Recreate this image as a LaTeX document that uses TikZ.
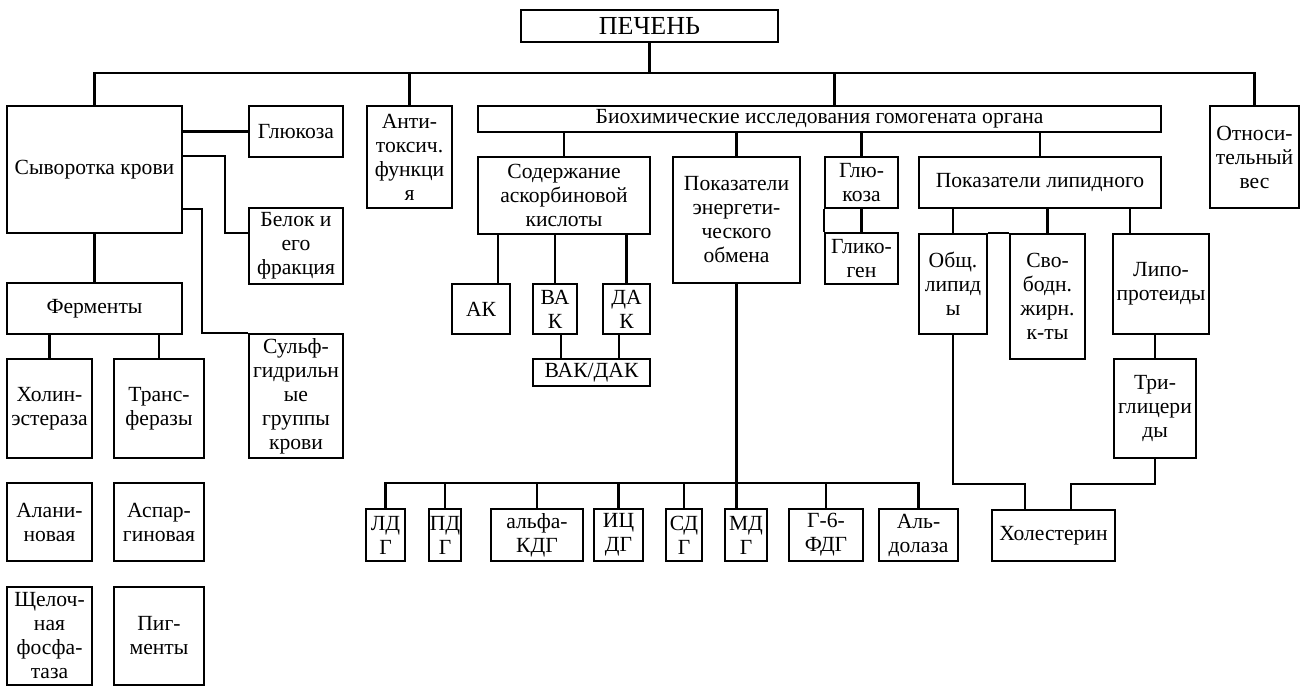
\documentclass[tikz,border=0pt]{standalone}
\usepackage{fontspec}
\setmainfont{Liberation Serif}
\usepackage{tikz}
\usetikzlibrary{calc}

\begin{document}
\begin{tikzpicture}[x=0.5pt, y=-0.5pt, line width=1.2pt, inner sep=0pt,
	box/.style={draw=black, align=center, font=\fontsize{10.8}{12}\selectfont}]
		\useasboundingbox (0,0) rectangle (1304,686);

		\node[box, minimum width=128.5pt, minimum height=16pt, font=\fontsize{13}{15}\selectfont](pechen) at (649.5,26) {ПЕЧЕНЬ};

		\node[box, minimum width=87.5pt, minimum height=63.5pt](syv) at (94.5,169.5) {Сыворотка крови};
		\node[box, minimum width=47pt, minimum height=25.5pt](glu) at (296,131.5) {Глюкоза};
		\node[box, minimum width=47pt, minimum height=38pt](belok) at (296,246) {Белок и\\его\\фракция};
		\node[box, minimum width=47pt, minimum height=62pt](sulf) at (296,396) {Сульф-\\гидрильн\\ые\\группы\\крови};
		\node[box, minimum width=87.5pt, minimum height=25.5pt](ferm) at (94.5,308.5) {Ферменты};

		\node[box, minimum width=42.5pt, minimum height=49.5pt](holin) at (49.5,408.5) {Холин-\\эстераза};
		\node[box, minimum width=45pt, minimum height=49.5pt](trans) at (159,408.5) {Транс-\\феразы};
		\node[box, minimum width=42.5pt, minimum height=39pt](alan) at (49.5,522) {Алани-\\новая};
		\node[box, minimum width=45pt, minimum height=39pt](aspar) at (159,522) {Аспар-\\гиновая};
		\node[box, minimum width=42.5pt, minimum height=49pt](shchel) at (49.5,636) {Щелоч-\\ная\\фосфа-\\таза};
		\node[box, minimum width=45pt, minimum height=49pt](pigm) at (159,636) {Пиг-\\менты};

		\node[box, minimum width=42.5pt, minimum height=51pt](anti) at (409.5,157) {Анти-\\токсич.\\функци\\я};
		\node[box, minimum width=341.5pt, minimum height=13pt](bio) at (819.5,119) {Биохимические исследования гомогената органа};
		\node[box, minimum width=44.5pt, minimum height=51pt](otn) at (1254.5,157) {Относи-\\тельный\\вес};

		\node[box, minimum width=86pt, minimum height=38.5pt](askor) at (564,195.5) {Содержание\\аскорбиновой\\кислоты};
		\node[box, minimum width=29pt, minimum height=25pt](ak) at (481,309) {АК};
		\node[box, minimum width=22pt, minimum height=25pt](vak) at (555,309) {ВА\\К};
		\node[box, minimum width=23.5pt, minimum height=25pt](dak) at (626.5,309) {ДА\\К};
		\node[box, minimum width=58.5pt, minimum height=13.5pt](vakdak) at (591.5,372.5) {ВАК/ДАК};

		\node[box, minimum width=63.5pt, minimum height=63pt](energ) at (736.5,220) {Показатели\\энергети-\\ческого\\обмена};
		\node[box, minimum width=36.5pt, minimum height=25.5pt](glu2) at (861.5,182.5) {Глю-\\коза};
		\node[box, minimum width=36.5pt, minimum height=25.5pt](glik) at (861.5,258.5) {Глико-\\ген};

		\node[box, minimum width=121pt, minimum height=25.5pt](lipid) at (1040,182.5) {Показатели липидного};
		\node[box, minimum width=34pt, minimum height=50pt](obsh) at (953,284) {Общ.\\липид\\ы};
		\node[box, minimum width=37.5pt, minimum height=62.5pt](svob) at (1047.5,296.5) {Сво-\\бодн.\\жирн.\\к-ты};
		\node[box, minimum width=48pt, minimum height=50pt](lipo) at (1161,284) {Липо-\\протеиды};
		\node[box, minimum width=41pt, minimum height=49.5pt](trig) at (1155,408.5) {Три-\\глицери\\ды};
		\node[box, minimum width=61.5pt, minimum height=25.5pt](hol) at (1053.5,535.5) {Холестерин};

		\node[box, minimum width=19.5pt, minimum height=26pt](ldg) at (385.5,535) {ЛД\\Г};
		\node[box, minimum width=16pt, minimum height=26pt](pdg) at (445,535) {ПД\\Г};
		\node[box, minimum width=46pt, minimum height=26pt](akdg) at (537,535) {альфа-\\КДГ};
		\node[box, minimum width=24.5pt, minimum height=26pt](icdg) at (618.5,535) {ИЦ\\ДГ};
		\node[box, minimum width=18pt, minimum height=26pt](sdg) at (684,535) {СД\\Г};
		\node[box, minimum width=21pt, minimum height=26pt](mdg) at (746,535) {МД\\Г};
		\node[box, minimum width=37pt, minimum height=26pt](g6fdg) at (826,535) {Г-6-\\ФДГ};
		\node[box, minimum width=39.5pt, minimum height=26pt](aldol) at (918.5,535) {Аль-\\долаза};

		\coordinate (bus) at (0,73);
		\coordinate (enzbus) at (0,483);
		\coordinate (holbus) at (0,484);
		\coordinate (bioin) at ($(bio.north)+(15,0)$);
		\coordinate (akin) at ($(ak.north)+(17,0)$);
		\coordinate (lipoin) at ($(lipo.north)+(-31,0)$);
		\coordinate (hola) at ($(hol.north)+(-28.5,0)$);
		\coordinate (holb) at ($(hol.north)+(17.5,0)$);
		\coordinate (vakout) at ($(vak.south)+(6,0)$);
		\coordinate (dakout) at ($(dak.south)+(-7.5,0)$);

		\draw (pechen.south) -- (pechen.south |- bus);
		\draw (syv.north) -- (syv.north |- bus) -- (otn.north |- bus) -- (otn.north);
		\draw (anti.north) -- (anti.north |- bus);
		\draw (bioin) -- (bioin |- bus);

		\draw (syv.east |- glu.west) -- (glu.west);
		\draw ($(syv.north east)+(0,51)$) -| ($(belok.west)+(-23,-13)$) -- ($(belok.west)+(0,-13)$);
		\draw ($(syv.south east)+(0,-25)$) -| ($(sulf.north west)+(-46,0)$) -- (sulf.north west);
		\draw (syv) -- (ferm);
		\draw (holin.north) -- (holin.north |- ferm.south);
		\draw (trans.north) -- (trans.north |- ferm.south);

		\draw (askor.north) -- (askor.north |- bio.south);
		\draw (energ.north) -- (energ.north |- bio.south);
		\draw (glu2.north) -- (glu2.north |- bio.south);
		\draw (lipid.north) -- (lipid.north |- bio.south);

		\draw (akin) -- (akin |- askor.south);
		\draw (vak.north) -- (vak.north |- askor.south);
		\draw (dak.north) -- (dak.north |- askor.south);
		\draw (vakout) -- (vakout |- vakdak.north);
		\draw (dakout) -- (dakout |- vakdak.north);

		\draw (glu2) -- (glik);
		\draw (glu2.south west) -- (glik.north west);

		\draw (obsh.north) -- (obsh.north |- lipid.south);
		\draw (svob.north) -- (svob.north |- lipid.south);
		\draw (lipoin) -- (lipoin |- lipid.south);
		\draw (obsh.north east) -- (svob.north west);
		\draw (trig.north) -- (trig.north |- lipo.south);
		\draw (obsh.south) -- (obsh.south |- holbus) -| (hola);
		\draw (trig.south) -- (trig.south |- holbus) -| (holb);

		\draw (energ.south) -- (energ.south |- mdg.north);
		\draw (ldg.north) -- (ldg.north |- enzbus) -- (aldol.north |- enzbus) -- (aldol.north);
		\draw (pdg.north) -- (pdg.north |- enzbus);
		\draw (akdg.north) -- (akdg.north |- enzbus);
		\draw (icdg.north) -- (icdg.north |- enzbus);
		\draw (sdg.north) -- (sdg.north |- enzbus);
		\draw (g6fdg.north) -- (g6fdg.north |- enzbus);
	\end{tikzpicture}
\end{document}
